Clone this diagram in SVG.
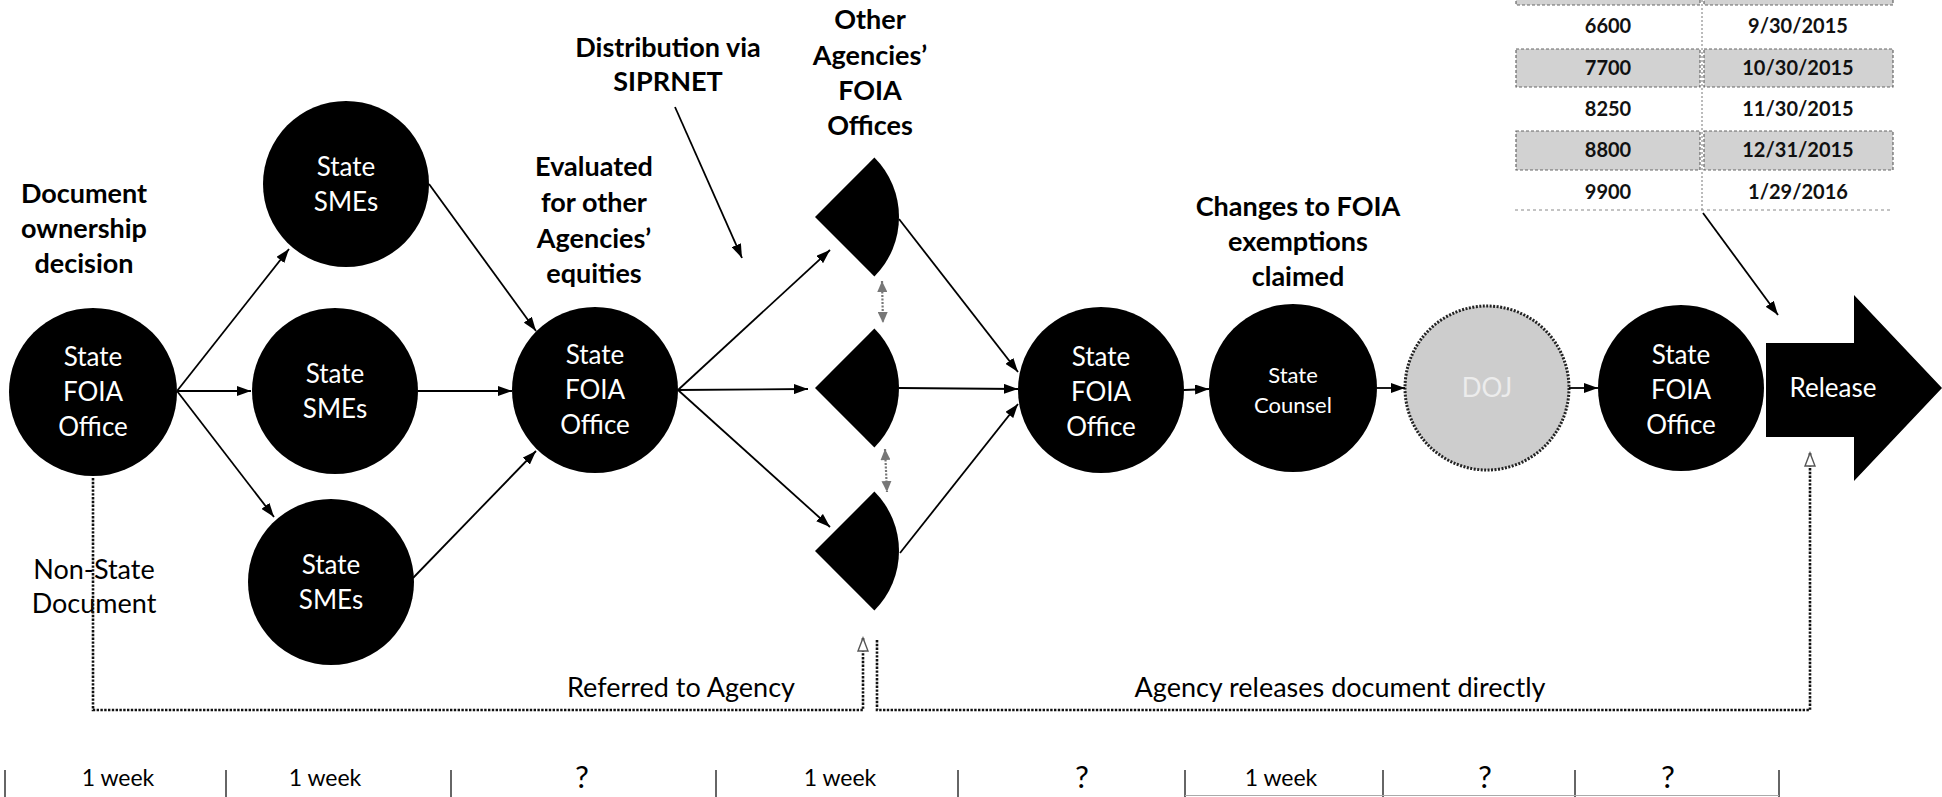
<svg xmlns="http://www.w3.org/2000/svg" width="1942" height="797" viewBox="0 0 1942 797">
<style>
.node{fill:#000}
.nt{font-family:Lato,"Open Sans",sans-serif;font-size:26px;fill:#fff;text-anchor:middle}
.lbl{font-family:Lato,"Open Sans",sans-serif;font-size:27px;font-weight:bold;fill:#000;text-anchor:middle}
.lblr{font-family:Lato,"Open Sans",sans-serif;font-size:27px;fill:#000;text-anchor:middle}
.tl{font-family:Lato,"Open Sans",sans-serif;font-size:23px;fill:#000;text-anchor:middle}
.q{font-family:Lato,"Open Sans",sans-serif;font-size:31px;fill:#000;text-anchor:middle}
.tb{font-family:Lato,"Open Sans",sans-serif;font-size:20px;font-weight:bold;fill:#111;text-anchor:middle}
.conn{stroke:#000;stroke-width:1.8;fill:none;marker-end:url(#ah)}
.dot{stroke:#111;stroke-width:2.6;stroke-dasharray:2.4 1.4;fill:none}
.gdot{stroke:#777;stroke-width:2.2;stroke-dasharray:2 1.5;fill:none;marker-start:url(#gs);marker-end:url(#ge)}
.tick{stroke:#333;stroke-width:1.5}
.cell{fill:#d2d2d2;stroke:#666;stroke-width:1.2;stroke-dasharray:3 2}
</style>
<defs>
<marker id="ah" markerUnits="userSpaceOnUse" markerWidth="14" markerHeight="10" refX="14" refY="5" orient="auto"><path d="M0,0 L14,5 L0,10 Z" fill="#000"/></marker>
<marker id="ge" markerUnits="userSpaceOnUse" markerWidth="12" markerHeight="10" refX="11" refY="5" orient="auto"><path d="M0,0 L11,5 L0,10 Z" fill="#777"/></marker>
<marker id="gs" markerUnits="userSpaceOnUse" markerWidth="12" markerHeight="10" refX="0" refY="5" orient="auto"><path d="M11,0 L0,5 L11,10 Z" fill="#777"/></marker>
<marker id="oa" markerUnits="userSpaceOnUse" markerWidth="16" markerHeight="12" refX="14" refY="6" orient="auto"><path d="M1,1 L14,6 L1,11 Z" fill="#fff" stroke="#555" stroke-width="1.4"/></marker>
</defs>
<rect width="1942" height="797" fill="#fff"/>

<g id="table">
<rect class="cell" x="1516" y="-36" width="184" height="41"/>
<rect class="cell" x="1704" y="-36" width="189" height="41"/>
<rect class="cell" x="1516" y="49" width="184" height="38"/>
<rect class="cell" x="1704" y="49" width="189" height="38"/>
<rect class="cell" x="1516" y="131" width="184" height="39"/>
<rect class="cell" x="1704" y="131" width="189" height="39"/>
<line x1="1702" y1="0" x2="1702" y2="212" stroke="#777" stroke-width="1" stroke-dasharray="2 2"/>
<line x1="1515" y1="210" x2="1893" y2="210" stroke="#888" stroke-width="1" stroke-dasharray="3 3"/>
<text class="tb" x="1608" y="33">6600</text><text class="tb" x="1798" y="33">9/30/2015</text>
<text class="tb" x="1608" y="75">7700</text><text class="tb" x="1798" y="75">10/30/2015</text>
<text class="tb" x="1608" y="116">8250</text><text class="tb" x="1798" y="116">11/30/2015</text>
<text class="tb" x="1608" y="157">8800</text><text class="tb" x="1798" y="157">12/31/2015</text>
<text class="tb" x="1608" y="199">9900</text><text class="tb" x="1798" y="199">1/29/2016</text>
</g>

<g id="labels">
<text class="lbl" x="84" y="203">Document</text>
<text class="lbl" x="84" y="238">ownership</text>
<text class="lbl" x="84" y="273">decision</text>
<text class="lblr" x="94" y="579">Non-State</text>
<text class="lblr" x="94" y="613">Document</text>
<text class="lbl" x="594" y="176">Evaluated</text>
<text class="lbl" x="594" y="212">for other</text>
<text class="lbl" x="594" y="248">Agencies’</text>
<text class="lbl" x="594" y="283">equities</text>
<text class="lbl" x="668" y="57">Distribution via</text>
<text class="lbl" x="668" y="91">SIPRNET</text>
<text class="lbl" x="870" y="29">Other</text>
<text class="lbl" x="870" y="65">Agencies’</text>
<text class="lbl" x="870" y="100">FOIA</text>
<text class="lbl" x="870" y="135">Offices</text>
<text class="lbl" x="1298" y="216">Changes to FOIA</text>
<text class="lbl" x="1298" y="251">exemptions</text>
<text class="lbl" x="1298" y="286">claimed</text>
<text class="lblr" x="681" y="697">Referred to Agency</text>
<text class="lblr" x="1340" y="697">Agency releases document directly</text>
</g>

<g id="n1"><circle class="node" cx="93" cy="392" r="84"/><text class="nt" x="93" y="366">State</text><text class="nt" x="93" y="401">FOIA</text><text class="nt" x="93" y="436">Office</text></g>
<g id="n2"><circle class="node" cx="346" cy="184" r="83"/><text class="nt" x="346" y="176">State</text><text class="nt" x="346" y="211">SMEs</text></g>
<g id="n3"><circle class="node" cx="335" cy="391" r="83"/><text class="nt" x="335" y="383">State</text><text class="nt" x="335" y="418">SMEs</text></g>
<g id="n4"><circle class="node" cx="331" cy="582" r="83"/><text class="nt" x="331" y="574">State</text><text class="nt" x="331" y="609">SMEs</text></g>
<g id="n5"><circle class="node" cx="595" cy="390" r="83"/><text class="nt" x="595" y="364">State</text><text class="nt" x="595" y="399">FOIA</text><text class="nt" x="595" y="434">Office</text></g>
<g id="w1"><path class="node" d="M815,217 L874.4,157.6 A84,84 0 0 1 874.4,276.4 Z"/></g>
<g id="w2"><path class="node" d="M815,388 L874.4,328.6 A84,84 0 0 1 874.4,447.4 Z"/></g>
<g id="w3"><path class="node" d="M815,551 L874.4,491.6 A84,84 0 0 1 874.4,610.4 Z"/></g>
<g id="n6"><circle class="node" cx="1101" cy="390" r="83"/><text class="nt" x="1101" y="366">State</text><text class="nt" x="1101" y="401">FOIA</text><text class="nt" x="1101" y="436">Office</text></g>
<g id="n7"><circle class="node" cx="1293" cy="388" r="84"/><text class="nt" style="font-size:22px" x="1293" y="383">State</text><text class="nt" style="font-size:22px" x="1293" y="413">Counsel</text></g>
<g id="n8"><circle cx="1487" cy="388" r="82" fill="#cdcdcd" stroke="#222" stroke-width="3" stroke-dasharray="2 1.5"/><text class="nt" style="fill:#ececec" x="1487" y="397">DOJ</text></g>
<g id="n9"><circle class="node" cx="1681" cy="388" r="83"/><text class="nt" x="1681" y="364">State</text><text class="nt" x="1681" y="399">FOIA</text><text class="nt" x="1681" y="434">Office</text></g>
<g id="n10"><path class="node" d="M1766,343 H1854 V295 L1942,388 L1854,481 V437 H1766 Z"/><text class="nt" x="1833" y="397">Release</text></g>

<g id="connectors">
<line class="conn" x1="177" y1="391" x2="289" y2="249"/>
<line class="conn" x1="177" y1="391" x2="251" y2="391"/>
<line class="conn" x1="177" y1="391" x2="274" y2="517"/>
<line class="conn" x1="429" y1="184" x2="536" y2="331"/>
<line class="conn" x1="418" y1="391" x2="512" y2="391"/>
<line class="conn" x1="413" y1="578" x2="536" y2="451"/>
<line class="conn" x1="678" y1="390" x2="830" y2="250"/>
<line class="conn" x1="678" y1="390" x2="808" y2="389"/>
<line class="conn" x1="678" y1="390" x2="830" y2="527"/>
<line class="conn" x1="899" y1="219" x2="1018" y2="372"/>
<line class="conn" x1="899" y1="388" x2="1018" y2="389"/>
<line class="conn" x1="900" y1="553" x2="1018" y2="404"/>
<line class="conn" x1="1184" y1="390" x2="1209" y2="389"/>
<line class="conn" x1="1377" y1="388" x2="1405" y2="388"/>
<line class="conn" x1="1569" y1="388" x2="1598" y2="388"/>
<line class="conn" x1="675" y1="107" x2="742" y2="258"/>
<line class="conn" x1="1703" y1="213" x2="1778" y2="315"/>
<line class="gdot" x1="882" y1="281" x2="883" y2="323"/>
<line class="gdot" x1="885" y1="449" x2="887" y2="492"/>
<path class="dot" d="M93,478 V710 H863 V638" marker-end="url(#oa)"/>
<path class="dot" d="M877,640 V710 H1810 V453" marker-end="url(#oa)"/>
</g>

<g id="timeline">
<line class="tick" x1="5" y1="770" x2="5" y2="797"/>
<line class="tick" x1="226" y1="770" x2="226" y2="797"/>
<line class="tick" x1="451" y1="770" x2="451" y2="797"/>
<line class="tick" x1="716" y1="770" x2="716" y2="797"/>
<line class="tick" x1="958" y1="770" x2="958" y2="797"/>
<line class="tick" x1="1185" y1="770" x2="1185" y2="797"/>
<line class="tick" x1="1383" y1="770" x2="1383" y2="797"/>
<line class="tick" x1="1575" y1="770" x2="1575" y2="797"/>
<line class="tick" x1="1779" y1="770" x2="1779" y2="797"/>
<line x1="1185" y1="795.5" x2="1779" y2="795.5" stroke="#aaa" stroke-width="1.2"/>
<text class="tl" x="118" y="786">1 week</text>
<text class="tl" x="325" y="786">1 week</text>
<text class="q" x="582" y="788">?</text>
<text class="tl" x="840" y="786">1 week</text>
<text class="q" x="1082" y="788">?</text>
<text class="tl" x="1281" y="786">1 week</text>
<text class="q" x="1485" y="788">?</text>
<text class="q" x="1668" y="788">?</text>
</g>
</svg>
